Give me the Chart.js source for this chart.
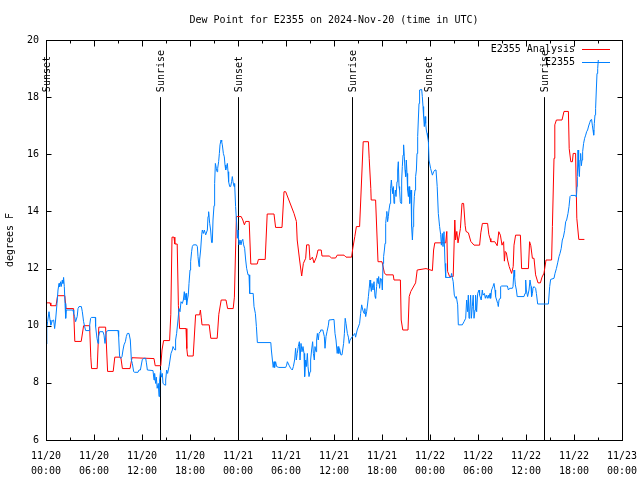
<!DOCTYPE html>
<html>
<head>
<meta charset="utf-8">
<script src="https://cdn.jsdelivr.net/npm/chart.js@4"></script>
<style>
  html, body { margin: 0; padding: 0; background: #fff; }
  #wrap { width: 640px; height: 480px; }
</style>
</head>
<body>
<div id="wrap"><canvas id="chartDew" width="640" height="480"></canvas></div>
<script>
// hours since 11/20 00:00 UTC
const redHours = [
  0, 0.5, 0.6, 1.25, 1.45, 2.35, 2.5, 3.45, 3.6, 4.4,
  4.7, 5.45, 5.6, 5.7, 6.4, 6.6, 7.45, 7.7, 8.4, 8.6,
  9.35, 9.55, 10.5, 10.75, 13.5, 13.65, 14.35, 14.5, 14.7, 15.45,
  15.6, 15.75, 16.0, 16.1, 16.4, 16.55, 16.7, 17.5, 17.6, 17.7,
  18.4, 18.7, 19.2, 19.3, 19.4, 19.5, 20.4, 20.6, 21.4, 21.6,
  21.9, 22.5, 22.7, 23.4, 23.55, 23.8, 24.4, 24.6, 24.8, 24.96,
  25.4, 25.6, 26.4, 26.55, 27.4, 27.65, 28.5, 28.7, 29.5, 29.75,
  29.96, 31.0, 31.3, 31.4, 31.7, 31.96, 32.17, 32.46, 32.58, 32.88,
  33.0, 33.3, 33.5, 33.8, 34.0, 34.4, 34.5, 35.4, 35.7, 36.2,
  36.4, 37.25, 37.5, 38.2, 38.35, 38.6, 38.8, 39.2, 39.5, 39.65,
  40.3, 40.4, 40.6, 40.65, 41.2, 41.5, 42.0, 42.3, 42.5, 43.4,
  43.5, 44.3, 44.4, 44.6, 45.25, 45.4, 45.6, 46.2, 46.4, 47.5,
  48.3, 48.45, 48.6, 49.96, 50.1, 50.2, 50.45, 50.9, 51.1, 51.2,
  51.35, 51.5, 51.8, 52.0, 52.2, 52.4, 52.5, 52.8, 53.1, 53.5,
  54.2, 54.35, 54.55, 55.2, 55.35, 55.5, 55.6, 56.1, 56.4, 56.6,
  56.8, 57.0, 57.2, 57.3, 57.4, 57.55, 57.7, 57.9, 58.2, 58.4,
  58.5, 58.7, 59.3, 59.45, 60.3, 60.45, 60.6, 60.8, 61.0, 61.2,
  61.5, 61.8, 62.0, 62.25, 62.5, 63.2, 63.3, 63.5, 63.6, 63.8,
  64.5, 64.75, 65.3, 65.4, 65.6, 65.8, 65.9, 66.2, 66.35, 66.6,
  67.3
];
const redValues = [
  10.8, 10.8, 10.7, 10.7, 11.05, 11.05, 10.6, 10.6, 9.45, 9.45,
  10.0, 10.0, 8.9, 8.5, 8.5, 9.95, 9.95, 8.4, 8.4, 8.9,
  8.9, 8.5, 8.5, 8.88, 8.85, 8.6, 8.6, 9.15, 9.48, 9.48,
  10.4, 13.1, 13.1, 12.86, 12.86, 10.7, 9.9, 9.9, 9.2, 8.94,
  8.94, 10.38, 10.38, 10.55, 10.3, 10.03, 10.03, 9.56, 9.56, 10.4,
  10.9, 10.9, 10.6, 10.6, 11.0, 13.82, 13.82, 13.7, 13.53, 13.65,
  13.65, 12.16, 12.16, 12.32, 12.32, 13.91, 13.91, 13.44, 13.44, 14.69,
  14.69, 13.93, 13.65, 13.0, 12.3, 11.74, 12.18, 12.36, 12.83, 12.83,
  12.3, 12.4, 12.2, 12.4, 12.65, 12.65, 12.44, 12.44, 12.37, 12.37,
  12.47, 12.47, 12.4, 12.4, 12.71, 13.12, 13.47, 13.47, 15.45, 16.44,
  16.44, 15.86, 14.8, 14.4, 14.4, 12.24, 12.24, 11.85, 11.78, 11.78,
  11.6, 11.6, 10.2, 9.85, 9.85, 11.02, 11.2, 11.5, 11.95, 12.0,
  11.93, 12.65, 12.9, 12.9, 13.3, 11.9, 11.72, 11.72, 13.7, 13.0,
  13.3, 12.9, 13.4, 14.28, 14.28, 13.5, 13.3, 13.25, 12.95, 12.82,
  12.82, 13.25, 13.58, 13.58, 13.2, 13.05, 12.94, 12.94, 12.8, 13.29,
  13.17, 12.82, 12.94, 12.26, 12.6, 12.55, 12.3, 12.07, 11.83, 12.07,
  12.82, 13.17, 13.17, 12.0, 12.0, 12.94, 12.8, 12.36, 12.36, 11.78,
  11.5, 11.5, 11.7, 11.84, 12.3, 12.3, 13.47, 15.86, 17.03, 17.2,
  17.2, 17.5, 17.5, 16.2, 15.74, 15.74, 16.03, 16.03, 13.76, 13.02,
  13.02
];

const blueHours = [
  0.0, 0.1, 0.2, 0.375, 0.5, 0.6, 0.8, 0.96, 1.08, 1.2,
  1.375, 1.5, 1.625, 1.7, 1.83, 1.9, 2.04, 2.12, 2.2, 2.29,
  2.375, 2.46, 2.54, 3.375, 3.46, 3.58, 3.7, 3.9, 4.0, 4.125,
  4.42, 4.54, 4.7, 4.83, 4.96, 5.375, 5.46, 5.58, 5.67, 6.17,
  6.2, 6.375, 6.5, 6.58, 6.7, 7.125, 7.25, 7.375, 7.54, 7.75,
  9.0, 9.08, 9.2, 9.33, 9.5, 9.625, 9.75, 9.92, 10.04, 10.17,
  10.375, 10.54, 10.67, 10.79, 10.96, 11.08, 11.5, 11.625, 11.8, 12.04,
  12.25, 12.46, 12.55, 12.67, 13.375, 13.5, 13.58, 13.7, 13.79, 13.9,
  14.04, 14.125, 14.2, 14.33, 14.42, 14.54, 14.625, 14.875, 14.96, 15.08,
  15.2, 15.375, 15.5, 15.625, 15.79, 15.875, 16.0, 16.125, 16.2, 16.33,
  16.5, 16.625, 16.75, 16.875, 17.04, 17.17, 17.29, 17.375, 17.5, 17.58,
  17.67, 17.79, 17.875, 18.0, 18.08, 18.2, 18.29, 18.42, 18.8, 18.92,
  19.0, 19.125, 19.2, 19.33, 19.46, 19.54, 19.67, 19.79, 19.96, 20.17,
  20.25, 20.33, 20.46, 20.58, 20.7, 20.79, 20.875, 21.0, 21.08, 21.17,
  21.29, 21.375, 21.46, 21.58, 21.67, 21.75, 21.875, 21.96, 22.04, 22.17,
  22.29, 22.375, 22.46, 22.58, 22.67, 22.75, 22.83, 22.96, 23.08, 23.2,
  23.29, 23.375, 23.5, 23.58, 23.7, 23.83, 23.92, 24.0, 24.125, 24.25,
  24.375, 24.5, 24.6, 24.7, 24.83, 24.96, 25.08, 25.25, 25.375, 25.46,
  25.9, 26.0, 26.17, 26.3, 26.42, 28.1, 28.17, 28.3, 28.4, 28.5,
  28.58, 28.7, 28.83, 29.1, 29.96, 30.08, 30.17, 30.375, 30.58, 30.79,
  30.92, 31.08, 31.2, 31.29, 31.4, 31.54, 31.67, 31.75, 31.875, 32.0,
  32.125, 32.25, 32.33, 32.46, 32.54, 32.67, 32.75, 32.875, 33.0, 33.08,
  33.2, 33.33, 33.42, 33.54, 33.625, 33.75, 33.83, 33.92, 34.04, 34.125,
  34.25, 34.33, 34.6, 34.79, 34.875, 35.0, 35.125, 35.3, 35.375, 36.0,
  36.125, 36.25, 36.4, 36.5, 36.6, 36.7, 36.85, 37.0, 37.2, 37.3,
  37.4, 37.5, 37.67, 37.8, 37.9, 38.0, 38.3, 38.6, 38.7, 38.9,
  39.2, 39.33, 39.46, 39.6, 39.75, 39.85, 39.96, 40.08, 40.2, 40.3,
  40.4, 40.5, 40.58, 40.67, 40.75, 40.875, 41.0, 41.125, 41.2, 41.33,
  41.4, 41.5, 41.58, 41.7, 41.83, 41.96, 42.04, 42.125, 42.2, 42.3,
  42.375, 42.46, 42.54, 42.6, 42.7, 42.79, 42.875, 43.0, 43.08, 43.17,
  43.25, 43.33, 43.42, 43.5, 43.58, 43.67, 43.75, 43.875, 43.96, 44.04,
  44.125, 44.2, 44.29, 44.375, 44.46, 44.54, 44.625, 44.7, 44.79, 44.875,
  44.96, 45.04, 45.125, 45.2, 45.3, 45.375, 45.46, 45.54, 45.625, 45.7,
  45.8, 45.875, 45.96, 46.04, 46.125, 46.2, 46.3, 46.375, 46.46, 46.54,
  46.625, 46.7, 46.96, 47.04, 47.125, 47.2, 47.29, 47.375, 47.46, 47.54,
  47.625, 47.7, 47.8, 47.875, 48.08, 48.3, 48.46, 48.625, 48.75, 48.9,
  49.04, 49.2, 49.33, 49.42, 49.54, 49.625, 49.75, 49.875, 49.96, 50.6,
  50.7, 50.79, 50.9, 51.04, 51.2, 51.29, 51.46, 51.54, 52.04, 52.25,
  52.46, 52.58, 52.7, 52.79, 52.875, 52.96, 53.08, 53.17, 53.29, 53.4,
  53.5, 53.625, 53.7, 53.83, 53.96, 54.125, 54.2, 54.4, 54.54, 54.625,
  54.8, 54.92, 55.04, 55.17, 55.29, 55.375, 55.5, 55.58, 55.7, 55.79,
  55.875, 56.0, 56.125, 56.2, 56.33, 56.46, 56.54, 56.625, 56.75, 56.83,
  56.96, 57.67, 57.8, 57.96, 58.3, 58.375, 58.5, 58.58, 58.67, 58.8,
  58.9, 59.75, 59.875, 59.96, 60.04, 60.2, 60.375, 60.5, 60.625, 60.7,
  60.8, 60.875, 61.0, 61.2, 61.3, 61.46, 62.8, 62.96, 63.08, 63.5,
  63.625, 63.8, 63.96, 64.125, 64.25, 64.4, 64.54, 64.67, 64.83, 64.96,
  65.08, 65.25, 65.375, 65.5, 65.625, 66.2, 66.3, 66.375, 66.42, 66.5,
  66.58, 66.67, 66.75, 66.83, 66.92, 67.0, 67.08, 67.2, 67.33, 67.46,
  67.58, 67.7, 67.83, 67.96, 68.08, 68.2, 68.29, 68.375, 68.46, 68.54,
  68.625, 68.7, 68.79, 68.875, 68.96, 69.04
];
const blueValues = [
  9.36, 9.9, 10.14, 10.49, 10.2, 10.02, 10.18, 10.2, 9.9, 10.2,
  10.78, 11.25, 11.48, 11.37, 11.54, 11.37, 11.6, 11.48, 11.69, 11.37,
  10.78, 10.26, 10.55, 10.55, 10.43, 10.32, 10.14, 10.32, 10.6, 10.67,
  10.67, 10.49, 10.14, 9.97, 9.83, 9.83, 10.02, 10.26, 10.29, 10.29,
  9.97, 9.56, 9.38, 9.62, 9.79, 9.79, 9.67, 9.38, 9.79, 9.83,
  9.83, 9.62, 8.92, 8.86, 8.92, 9.15, 9.33, 9.44, 9.62, 9.73,
  9.73, 9.5, 8.8, 8.68, 8.39, 8.37, 8.37, 8.45, 8.45, 8.82,
  8.86, 8.86, 8.7, 8.45, 8.43, 8.1, 8.33, 7.98, 8.2, 7.81,
  7.98, 7.52, 8.1, 8.45, 8.2, 8.33, 7.98, 7.92, 8.1, 8.45,
  8.33, 8.57, 8.8, 9.03, 9.15, 9.27, 9.2, 9.15, 9.5, 9.73,
  10.2, 10.6, 10.49, 10.84, 10.78, 10.9, 11.19, 10.9, 11.13, 10.73,
  10.9, 11.08, 11.48, 11.95, 12.24, 12.59, 12.77, 12.83, 12.83, 12.77,
  12.42, 12.07, 12.3, 12.65, 13.18, 13.35, 13.23, 13.35, 13.18, 13.35,
  13.82, 13.99, 13.58, 13.35, 12.91, 12.91, 13.7, 14.2, 14.98, 15.68,
  15.51, 15.39, 15.51, 15.74, 16.03, 16.33, 16.5, 16.44, 16.33, 16.03,
  15.91, 15.62, 15.45, 15.57, 15.68, 15.39, 15.04, 14.87, 14.87, 15.04,
  15.22, 15.04, 14.87, 14.98, 14.17, 13.6, 13.06, 13.35, 12.83, 13.0,
  12.83, 13.0, 13.02, 12.83, 12.71, 12.3, 12.01, 11.78, 11.78, 11.13,
  11.13, 10.67, 10.43, 9.97, 9.41, 9.41, 9.15, 8.8, 8.54, 8.74,
  8.54, 8.74, 8.57, 8.54, 8.54, 8.62, 8.74, 8.62, 8.51, 8.45,
  8.57, 8.8, 9.21, 8.8, 9.03, 9.27, 9.44, 8.8, 9.38, 9.09,
  9.27, 9.03, 8.22, 8.8, 8.57, 9.03, 8.57, 8.22, 8.39, 8.8,
  9.15, 9.44, 9.03, 8.8, 9.27, 9.09, 9.5, 9.73, 9.5, 9.73,
  9.79, 9.85, 9.85, 9.62, 9.21, 9.62, 9.79, 10.02, 10.2, 10.22,
  9.73, 9.5, 9.03, 9.27, 9.03, 9.2, 8.98, 8.98, 9.38, 9.73,
  10.26, 10.08, 9.73, 9.6, 9.38, 9.5, 9.62, 9.73, 9.6, 9.85,
  10.08, 10.43, 10.73, 10.55, 10.43, 10.6, 10.32, 10.49, 10.76, 11.02,
  11.31, 11.6, 11.37, 11.2, 11.48, 11.25, 11.54, 11.02, 10.96, 11.37,
  11.66, 11.48, 11.72, 11.31, 11.66, 11.6, 11.25, 12.18, 12.42, 12.65,
  12.88, 13.58, 13.82, 14.0, 13.64, 13.82, 14.05, 14.28, 14.81, 15.1,
  14.81, 14.63, 14.87, 14.28, 14.52, 14.75, 14.52, 15.04, 15.45, 15.74,
  14.87, 14.75, 14.34, 14.28, 15.1, 15.57, 15.97, 16.33, 15.91, 15.45,
  15.22, 15.8, 15.33, 14.75, 14.52, 14.87, 14.28, 14.58, 14.75, 13.47,
  13.0, 13.47, 14.05, 14.52, 14.75, 15.22, 15.45, 16.03, 16.62, 17.2,
  17.78, 18.25, 18.27, 18.02, 17.67, 17.32, 16.97, 17.32, 17.08, 16.85,
  16.73, 16.62, 16.44, 15.8, 15.5, 15.27, 15.39, 15.45, 15.45, 14.87,
  13.93, 13.47, 13.2, 12.82, 13.23, 12.77, 13.29, 12.18, 11.69, 11.69,
  11.83, 11.69, 11.54, 11.07, 10.96, 11.02, 10.73, 10.03, 10.03, 10.14,
  10.26, 10.9, 10.49, 11.07, 10.26, 10.49, 11.07, 10.26, 10.67, 11.07,
  10.26, 10.55, 11.07, 10.49, 11.13, 11.25, 11.07, 10.9, 11.25, 11.07,
  11.13, 10.96, 11.07, 10.96, 11.07, 10.96, 11.13, 10.96, 11.25, 11.31,
  11.37, 11.48, 11.25, 11.02, 10.9, 10.78, 10.67, 10.9, 10.96, 11.37,
  11.39, 11.39, 11.25, 11.31, 11.31, 11.37, 11.95, 11.72, 11.43, 11.25,
  11.02, 11.02, 11.13, 11.6, 11.25, 11.02, 11.25, 11.6, 11.37, 11.02,
  11.13, 11.31, 11.37, 11.31, 11.13, 10.76, 10.76, 11.37, 11.62, 11.66,
  11.83, 12.0, 12.2, 12.42, 12.53, 12.7, 13.0, 13.1, 13.33, 13.64,
  13.7, 13.93, 14.17, 14.52, 14.56, 14.56, 14.5, 14.87, 15.22, 16.15,
  15.57, 15.22, 15.8, 16.03, 15.6, 15.8, 16.09, 16.38, 16.56, 16.67,
  16.79, 16.85, 16.99, 17.1, 17.2, 17.22, 17.02, 16.85, 16.67, 17.08,
  17.38, 17.6, 18.25, 18.83, 19.0, 19.3
];

const sunHours = [0, 14.3, 23.95, 38.3, 47.8, 62.2];
const sunNames = ['Sunset', 'Sunrise', 'Sunset', 'Sunrise', 'Sunset', 'Sunrise'];
const sunTop = 18;

const dayLabels = ['11/20', '11/21', '11/22', '11/23'];
const hourLabels = ['00:00', '06:00', '12:00', '18:00'];

const FONT = '"DejaVu Sans Mono", "Liberation Mono", monospace';

const toPoints = (hrs, vals) => hrs.map((h, i) => ({x: h, y: vals[i]}));

const gnuFrame = {
  id: 'gnuFrame',
  beforeDraw(chart) {
    const ctx = chart.ctx;
    ctx.save();
    ctx.fillStyle = '#fff';
    ctx.fillRect(0, 0, chart.width, chart.height);
    ctx.restore();
  },
  beforeDatasetsDraw(chart) {
    const {ctx, chartArea: a, scales: {x, y}} = chart;
    ctx.save();
    ctx.strokeStyle = '#000';
    ctx.fillStyle = '#000';
    ctx.lineWidth = 1;
    ctx.font = '10px ' + FONT;
    const top = y.getPixelForValue(sunTop);
    sunHours.forEach((h, i) => {
      const px = Math.round(x.getPixelForValue(h)) + 0.5;
      ctx.beginPath();
      ctx.moveTo(px, a.bottom);
      ctx.lineTo(px, top);
      ctx.stroke();
      ctx.save();
      ctx.translate(px + 1, top - 5);
      ctx.rotate(-Math.PI / 2);
      ctx.textAlign = 'left';
      ctx.textBaseline = 'middle';
      ctx.fillText(sunNames[i], 0, 0);
      ctx.restore();
    });
    ctx.restore();
  },
  afterDatasetsDraw(chart) {
    const {ctx, chartArea: a, scales: {x, y}} = chart;
    const L = Math.round(a.left) + 0.5, R = Math.round(a.right) + 0.5;
    const T = Math.round(a.top) + 0.5, B = Math.round(a.bottom) + 0.5;
    ctx.save();
    ctx.strokeStyle = '#000';
    ctx.lineWidth = 1;
    ctx.strokeRect(L, T, R - L, B - T);

    ctx.beginPath();
    y.ticks.forEach(t => {
      const py = Math.round(y.getPixelForValue(t.value)) + 0.5;
      ctx.moveTo(L, py); ctx.lineTo(L + 5, py);
      ctx.moveTo(R, py); ctx.lineTo(R - 5, py);
    });
    for (let h = 0; h <= 72; h += 3) {
      const px = Math.round(x.getPixelForValue(h)) + 0.5;
      const len = h % 6 === 0 ? 6 : 3;
      ctx.moveTo(px, B); ctx.lineTo(px, B - len);
      ctx.moveTo(px, T); ctx.lineTo(px, T + len);
    }
    ctx.stroke();

    // title
    ctx.fillStyle = '#000';
    ctx.font = '10px ' + FONT;
    ctx.textAlign = 'center';
    ctx.textBaseline = 'middle';
    ctx.fillText('Dew Point for E2355 on 2024-Nov-20 (time in UTC)', (a.left + a.right) / 2, 20);

    // legend, gnuplot style
    chart.data.datasets.forEach((ds, i) => {
      const ly = 49.5 + i * 13;
      ctx.textAlign = 'right';
      ctx.fillStyle = '#000';
      ctx.fillText(ds.label, 575, ly);
      ctx.strokeStyle = ds.borderColor;
      ctx.beginPath();
      ctx.moveTo(582, ly);
      ctx.lineTo(610, ly);
      ctx.stroke();
    });
    ctx.restore();
  }
};

new Chart(document.getElementById('chartDew'), {
  type: 'line',
  data: {
    datasets: [
      {
        label: 'E2355 Analysis',
        data: toPoints(redHours, redValues),
        borderColor: '#ff0000',
        borderWidth: 1,
        pointRadius: 0,
        tension: 0,
        order: 1
      },
      {
        label: 'E2355',
        data: toPoints(blueHours, blueValues),
        borderColor: '#0080ff',
        borderWidth: 1,
        pointRadius: 0,
        tension: 0,
        order: 0
      }
    ]
  },
  options: {
    responsive: false,
    animation: false,
    devicePixelRatio: 1,
    layout: {padding: {top: 40, right: 18, left: 0, bottom: 0}},
    plugins: {
      legend: {display: false},
      title: {display: false},
      tooltip: {enabled: false}
    },
    scales: {
      x: {
        type: 'linear',
        min: 0,
        max: 72,
        grid: {display: false, drawTicks: false},
        border: {display: false},
        ticks: {
          stepSize: 6,
          padding: 9,
          maxRotation: 0,
          autoSkip: false,
          color: '#000',
          font: {family: FONT, size: 10, lineHeight: 1.5},
          callback: v => [dayLabels[Math.floor(v / 24)], hourLabels[(v % 24) / 6]]
        },
        afterFit: s => {
          s.height = 40;
          s.paddingLeft = 0;
          s.paddingRight = 0;
        }
      },
      y: {
        min: 6,
        max: 20,
        grid: {display: false, drawTicks: false},
        border: {display: false},
        ticks: {
          stepSize: 2,
          padding: 7,
          color: '#000',
          font: {family: FONT, size: 10}
        },
        title: {
          display: true,
          text: 'degrees F',
          color: '#000',
          font: {family: FONT, size: 10},
          padding: {top: 4, bottom: 0}
        },
        afterFit: s => {
          s.width = 46;
          s.paddingTop = 0;
          s.paddingBottom = 0;
        }
      }
    }
  },
  plugins: [gnuFrame]
});
</script>
</body>
</html>
